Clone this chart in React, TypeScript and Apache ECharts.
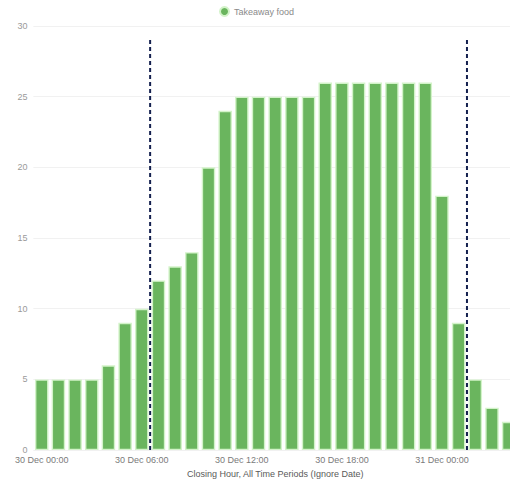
import React, { useEffect, useRef } from "react";
import * as echarts from "echarts";

const categories: string[] = [
  "30 Dec 00:00", "30 Dec 01:00", "30 Dec 02:00", "30 Dec 03:00", "30 Dec 04:00", "30 Dec 05:00",
  "30 Dec 06:00", "30 Dec 07:00", "30 Dec 08:00", "30 Dec 09:00", "30 Dec 10:00", "30 Dec 11:00",
  "30 Dec 12:00", "30 Dec 13:00", "30 Dec 14:00", "30 Dec 15:00", "30 Dec 16:00", "30 Dec 17:00",
  "30 Dec 18:00", "30 Dec 19:00", "30 Dec 20:00", "30 Dec 21:00", "30 Dec 22:00", "30 Dec 23:00",
  "31 Dec 00:00", "31 Dec 01:00", "31 Dec 02:00", "31 Dec 03:00", "31 Dec 04:00",
];

const takeawayFood: number[] = [
  5, 5, 5, 5, 6, 9, 10, 12, 13, 14, 20, 24, 25, 25, 25, 25, 25,
  26, 26, 26, 26, 26, 26, 26, 18, 9, 5, 3, 2,
];

// vertical dashed markers, positioned between category slots (index + 0.5)
const markerPositions: number[] = [6.5, 25.5];
const markerTop = 29.1;

const yTicks = { min: 0, max: 30, interval: 5 };

export default function App() {
  const ref = useRef<HTMLDivElement>(null);

  useEffect(() => {
    document.body.style.margin = "0";
    document.body.style.overflow = "hidden";
    if (!ref.current) return;
    const chart = echarts.init(ref.current, undefined, { renderer: "svg" });
    const font = "Arial, 'Liberation Sans', sans-serif";
    const markerSeries = markerPositions.map((x, i) => ({
      name: "marker" + i,
      type: "line" as const,
      xAxisIndex: 1,
      yAxisIndex: 0,
      data: [
        [x, 0],
        [x, markerTop],
      ],
      symbol: "none",
      silent: true,
      z: 5,
      lineStyle: { color: "#14204f", width: 2, type: [4, 3] },
    }));
    chart.setOption({
      animation: false,
      textStyle: { fontFamily: font },
      legend: {
        data: ["Takeaway food"],
        top: 1,
        left: 214,
        icon: "circle",
        itemWidth: 9,
        itemHeight: 9,
        itemGap: 4,
        textStyle: { color: "#8a8a8a", fontSize: 9, fontFamily: font },
      },
      grid: { left: 33.4, right: 0, top: 26, bottom: 32, containLabel: false },
      xAxis: [
        {
          type: "category",
          data: categories,
          axisLine: { show: false },
          axisTick: { show: false },
          axisLabel: {
            interval: 5,
            color: "#7a7a7a",
            fontSize: 9,
            margin: 5,
            fontFamily: font,
          },
          name: "Closing Hour, All Time Periods (Ignore Date)",
          nameLocation: "middle",
          nameGap: 17,
          nameTextStyle: { color: "#5a5a5a", fontSize: 9, fontFamily: font },
        },
        {
          type: "value",
          min: -0.5,
          max: categories.length - 0.5,
          show: false,
        },
      ],
      yAxis: {
        type: "value",
        min: yTicks.min,
        max: yTicks.max,
        interval: yTicks.interval,
        axisLine: { show: false },
        axisTick: { show: false },
        axisLabel: { color: "#9a9a9a", fontSize: 9, margin: 6, fontFamily: font },
        splitLine: { lineStyle: { color: "#f1f1f1", width: 1 } },
      },
      series: [
        {
          name: "Takeaway food",
          type: "bar",
          xAxisIndex: 0,
          data: takeawayFood,
          barCategoryGap: "19%",
          itemStyle: {
            color: "#6ab55e",
            borderColor: "#d3f3c9",
            borderWidth: 1.4,
          },
        },
        ...markerSeries,
      ],
    });
    return () => chart.dispose();
  }, []);

  return <div ref={ref} style={{ width: 517, height: 483 }} />;
}
